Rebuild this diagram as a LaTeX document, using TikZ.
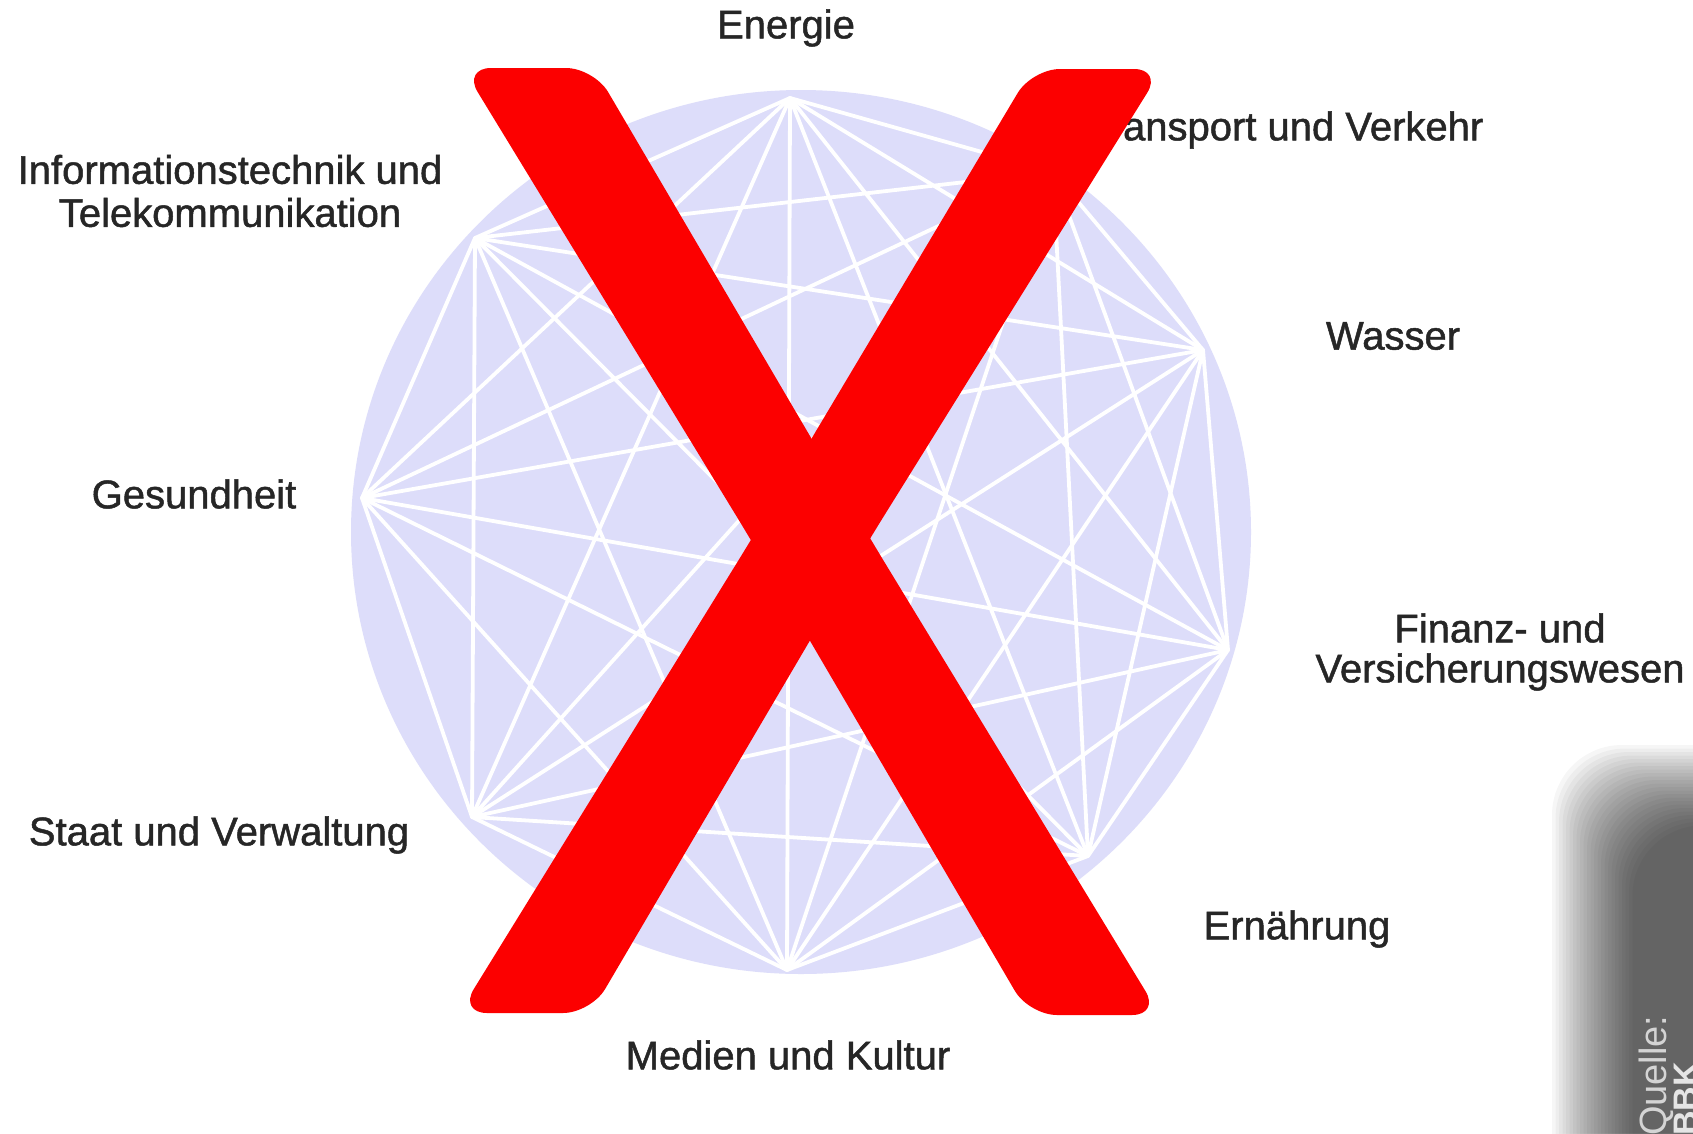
\documentclass[tikz,border=0pt]{standalone}
\usepackage{fontspec}
\setmainfont{Liberation Sans}
\newfontfamily\lblfont{Liberation Sans}[FakeBold=1.2]
\definecolor{diskcol}{RGB}{221,221,250}
\definecolor{xred}{RGB}{252,0,0}
\definecolor{txt}{RGB}{38,38,38}
\begin{document}
\begin{tikzpicture}[x=1pt,y=-1pt,
  lbl/.style={font=\lblfont\fontsize{40}{43}\selectfont, text=txt, align=center, inner sep=0pt},
  edgeline/.style={white, line width=3.8pt, line cap=round},
  xarm/.style={fill=xred, rounded corners=28pt},
  qtext/.style={rotate=90, anchor=base west, inner sep=0pt}]
\useasboundingbox (0,0) rectangle (1693,1133);
\fill[white] (0,0) rectangle (1693,1133);
\clip (0,0) rectangle (1693,1133);
% disk
\fill[diskcol] (801,532) ellipse [x radius=450, y radius=442];
% sector points
\coordinate (E) at (790,98);
\coordinate (T) at (1053,172);
\coordinate (W) at (1203,350);
\coordinate (F) at (1228,650);
\coordinate (N) at (1088,856);
\coordinate (M) at (787,970);
\coordinate (S) at (472,817);
\coordinate (G) at (362,498);
\coordinate (I) at (475,238);
\foreach \a/\b in {E/T,E/W,E/F,E/N,E/M,E/S,E/G,E/I,
                   T/W,T/F,T/N,T/M,T/S,T/G,T/I,
                   W/F,W/N,W/M,W/S,W/G,W/I,
                   F/N,F/M,F/S,F/G,F/I,
                   N/M,N/S,N/G,N/I,
                   M/S,M/G,M/I,
                   S/G,S/I,
                   G/I}
  \draw[edgeline] (\a) -- (\b);
% labels
\node[lbl] (lE) at (786,28) {Energie};
\node[lbl] (lT) at (1285,130) {Transport und Verkehr};
\node[lbl] (lI) at (230,191) {Informationstechnik und\\Telekommunikation};
\node[lbl] (lW) at (1393,336) {Wasser};
\node[lbl] (lG) at (194,494) {Gesundheit};
\node[lbl, font=\lblfont\fontsize{40}{40}\selectfont] (lF) at (1500,652) {Finanz- und\\Versicherungswesen};
\node[lbl] (lS) at (219,835) {Staat und Verwaltung};
\node[lbl] (lN) at (1297,929) {Ernährung};
\node[lbl] (lM) at (788,1055) {Medien und Kultur};
% the red X
\fill[xarm] (463,68) -- (594,68) -- (871,540) -- (1160,1015) -- (1029,1015) -- (751,540) -- cycle;
\fill[xarm] (1032,69) -- (1162,69) -- (869,540) -- (591,1013) -- (459,1013) -- (751,540) -- cycle;
% source box
\foreach \i in {0,...,23}
  \fill[black, opacity=0.036, rounded corners=70pt] (1552+3.5*\i,745+3.5*\i) rectangle (1800,1220);
\node[qtext, font=\fontsize{38}{38}\selectfont, text=black!17] (q) at (1666,1136) {Quelle:};
\node[qtext, font=\bfseries\fontsize{34}{34}\selectfont, text=black!10] (bbk) at (1697,1136) {BBK};
\end{tikzpicture}
\end{document}
